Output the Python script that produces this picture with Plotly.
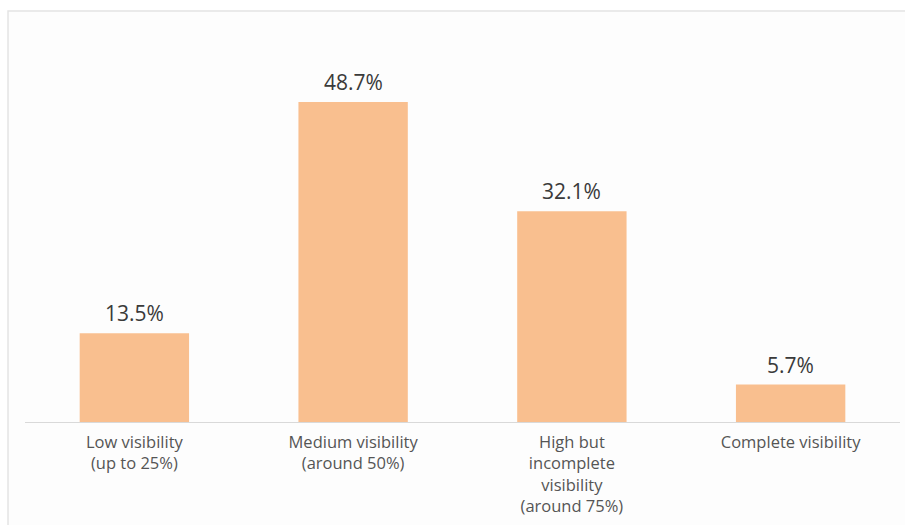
import plotly.graph_objects as go

categories = [
    "Low visibility<br>(up to 25%)",
    "Medium visibility<br>(around 50%)",
    "High but<br>incomplete<br>visibility<br>(around 75%)",
    "Complete visibility",
]
shares = [13.5, 48.7, 32.1, 5.7]
share_labels = ["13.5%", "48.7%", "32.1%", "5.7%"]

BAR_COLOR = "#F9BF8F"
FONT = "Open Sans, Liberation Sans, sans-serif"

fig = go.Figure(
    go.Bar(
        x=categories,
        y=shares,
        marker=dict(color=BAR_COLOR, line=dict(width=0)),
        hoverinfo="skip",
    )
)

# value labels above each bar
for cat, val, lab in zip(categories, shares, share_labels):
    fig.add_annotation(
        x=cat, y=val, text=lab, showarrow=False,
        yanchor="bottom", yshift=4,
        font=dict(family=FONT, size=21, color="#3a3a3a"),
    )

# light card frame behind the chart
fig.add_shape(
    type="rect", xref="paper", yref="paper",
    x0=-0.0194, x1=1.05, y0=-0.4, y1=1.0787,
    line=dict(color="#e4e4e4", width=1.5),
    fillcolor="#fdfdfd", layer="below",
)

fig.update_layout(
    width=905, height=525,
    margin=dict(l=25, r=5, t=41, b=103),
    paper_bgcolor="white",
    plot_bgcolor="rgba(0,0,0,0)",
    bargap=0.5,
    showlegend=False,
    font=dict(family=FONT, size=16, color="#555555"),
)
fig.update_xaxes(
    showline=True, linecolor="#d9d9d9", linewidth=1,
    ticks="", showgrid=False, zeroline=False,
    ticklabelstandoff=5,
    tickfont=dict(family=FONT, size=16.5, color="#555555"),
)
fig.update_yaxes(
    range=[0, 58], visible=False, showgrid=False, zeroline=False,
)

fig.write_html("out.html")
